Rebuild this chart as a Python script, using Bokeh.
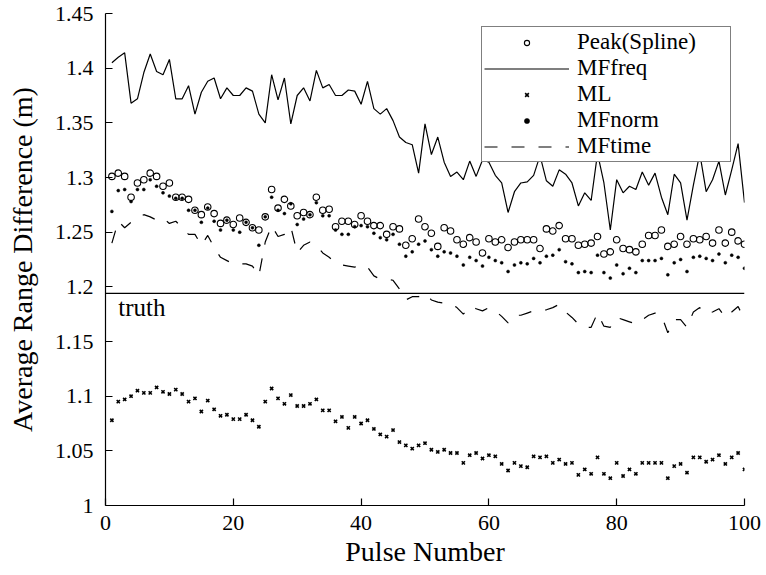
from bokeh.plotting import figure
from bokeh.models import Range1d, FixedTicker, Span, Legend, LegendItem
from bokeh.core.properties import value
from bokeh.embed import file_html
from bokeh.resources import INLINE

pulses = list(range(1, 101))

peak_spline = [
    1.301, 1.304, 1.301, 1.282, 1.295, 1.298, 1.304, 1.301, 1.292, 1.295,
    1.282, 1.282, 1.280, 1.270, 1.266, 1.273, 1.267, 1.258, 1.261, 1.257,
    1.263, 1.259, 1.254, 1.252, 1.264, 1.289, 1.272, 1.280, 1.274, 1.265,
    1.268, 1.266, 1.282, 1.270, 1.271, 1.255, 1.260, 1.260, 1.257, 1.265,
    1.260, 1.256, 1.256, 1.248, 1.255, 1.253, 1.238, 1.244, 1.262, 1.255,
    1.249, 1.237, 1.254, 1.251, 1.243, 1.239, 1.245, 1.241, 1.231, 1.244,
    1.241, 1.243, 1.236, 1.241, 1.243, 1.243, 1.243, 1.235, 1.253, 1.251,
    1.256, 1.244, 1.244, 1.238, 1.239, 1.240, 1.246, 1.230, 1.232, 1.243,
    1.235, 1.234, 1.232, 1.239, 1.247, 1.247, 1.252, 1.237, 1.239, 1.246,
    1.239, 1.244, 1.243, 1.246, 1.240, 1.252, 1.240, 1.250, 1.242, 1.239,
]

mf_freq = [
    1.405, 1.410, 1.414, 1.368, 1.372, 1.396, 1.413, 1.397, 1.394, 1.408,
    1.372, 1.372, 1.384, 1.358, 1.378, 1.388, 1.391, 1.372, 1.382, 1.375,
    1.375, 1.382, 1.379, 1.358, 1.350, 1.394, 1.371, 1.391, 1.349, 1.375,
    1.382, 1.370, 1.398, 1.382, 1.385, 1.375, 1.375, 1.380, 1.379, 1.367,
    1.388, 1.363, 1.358, 1.363, 1.352, 1.337, 1.332, 1.330, 1.304, 1.349,
    1.321, 1.337, 1.314, 1.301, 1.305, 1.298, 1.315, 1.301, 1.316, 1.314,
    1.302, 1.295, 1.268, 1.287, 1.295, 1.296, 1.302, 1.320, 1.297, 1.292,
    1.307, 1.303, 1.295, 1.274, 1.286, 1.279, 1.322, 1.295, 1.252, 1.298,
    1.286, 1.292, 1.289, 1.305, 1.293, 1.304, 1.282, 1.266, 1.303, 1.295,
    1.261, 1.293, 1.322, 1.287, 1.298, 1.315, 1.284, 1.307, 1.331, 1.277,
]

ml = [
    1.078, 1.095, 1.097, 1.100, 1.105, 1.103, 1.103, 1.108, 1.104, 1.102,
    1.106, 1.102, 1.095, 1.098, 1.086, 1.096, 1.088, 1.082, 1.083, 1.079,
    1.079, 1.083, 1.078, 1.072, 1.095, 1.107, 1.098, 1.093, 1.101, 1.091,
    1.091, 1.093, 1.097, 1.087, 1.087, 1.077, 1.081, 1.071, 1.081, 1.075,
    1.078, 1.070, 1.065, 1.063, 1.069, 1.058, 1.055, 1.052, 1.055, 1.057,
    1.051, 1.049, 1.051, 1.048, 1.048, 1.039, 1.046, 1.048, 1.043, 1.046,
    1.045, 1.038, 1.032, 1.039, 1.036, 1.035, 1.045, 1.044, 1.045, 1.039,
    1.042, 1.038, 1.039, 1.028, 1.033, 1.029, 1.044, 1.029, 1.025, 1.039,
    1.027, 1.033, 1.029, 1.039, 1.039, 1.039, 1.039, 1.025, 1.036, 1.038,
    1.030, 1.044, 1.044, 1.040, 1.042, 1.046, 1.038, 1.044, 1.048, 1.033,
]

mf_norm = [
    1.269, 1.288, 1.289, 1.278, 1.289, 1.289, 1.298, 1.292, 1.286, 1.283,
    1.281, 1.281, 1.270, 1.270, 1.259, 1.272, 1.260, 1.252, 1.261, 1.252,
    1.250, 1.259, 1.254, 1.238, 1.264, 1.282, 1.270, 1.267, 1.276, 1.257,
    1.262, 1.266, 1.277, 1.265, 1.265, 1.252, 1.248, 1.248, 1.255, 1.256,
    1.255, 1.249, 1.245, 1.243, 1.248, 1.239, 1.228, 1.232, 1.239, 1.242,
    1.234, 1.228, 1.232, 1.231, 1.228, 1.220, 1.227, 1.224, 1.219, 1.227,
    1.224, 1.222, 1.214, 1.220, 1.222, 1.221, 1.226, 1.222, 1.228, 1.229,
    1.234, 1.223, 1.221, 1.213, 1.214, 1.213, 1.229, 1.213, 1.208, 1.220,
    1.212, 1.217, 1.213, 1.224, 1.224, 1.224, 1.226, 1.211, 1.222, 1.225,
    1.214, 1.227, 1.228, 1.226, 1.224, 1.230, 1.222, 1.229, 1.227, 1.217,
]

mf_time = [
    1.240, 1.260, 1.254, 1.259, 1.263, 1.266, 1.264, 1.261, 1.263, 1.258,
    1.260, 1.254, 1.248, 1.248, 1.238, 1.247, 1.236, 1.227, 1.224, 1.221,
    1.221, 1.221, 1.219, 1.210, 1.241, 1.256, 1.246, 1.248, 1.255, 1.231,
    1.238, 1.241, 1.238, 1.231, 1.227, 1.222, 1.220, 1.219, 1.218, 1.220,
    1.218, 1.210, 1.207, 1.207, 1.206, 1.198, 1.188, 1.191, 1.191, 1.194,
    1.188, 1.186, 1.185, 1.185, 1.181, 1.175, 1.182, 1.180, 1.178, 1.181,
    1.178, 1.173, 1.167, 1.174, 1.174, 1.176, 1.178, 1.178, 1.179, 1.181,
    1.184, 1.177, 1.172, 1.166, 1.163, 1.163, 1.176, 1.164, 1.163, 1.172,
    1.170, 1.168, 1.166, 1.170, 1.174, 1.176, 1.174, 1.158, 1.170, 1.170,
    1.163, 1.177, 1.181, 1.175, 1.177, 1.180, 1.172, 1.177, 1.182, 1.170,
]

truth_value = 1.194
truth_text = "truth"
truth_label_x = 2.0

x_ticks = [0, 20, 40, 60, 80, 100]
y_ticks = [1.0, 1.05, 1.1, 1.15, 1.2, 1.25, 1.3, 1.35, 1.4, 1.45]
y_tick_labels = ["1", "1.05", "1.1", "1.15", "1.2", "1.25", "1.3", "1.35", "1.4", "1.45"]

series_names = ["Peak(Spline)", "MFfreq", "ML", "MFnorm", "MFtime"]

FONT = "Liberation Serif"

p = figure(width=766, height=575, output_backend="svg", toolbar_location=None,
           x_range=Range1d(0, 100), y_range=Range1d(1.0, 1.45),
           min_border_left=105, min_border_right=22, min_border_top=13,
           min_border_bottom=70)
p.outline_line_color = None
p.xgrid.visible = False
p.ygrid.visible = False
p.background_fill_color = "white"
p.border_fill_color = "white"

r_freq = p.line(pulses, mf_freq, line_color="black", line_width=1.2)
r_time = p.line(pulses, mf_time, line_color="black", line_width=1.2, line_dash="13 14")
r_peak = p.scatter(pulses, peak_spline, marker="circle", size=6.5, fill_color=None,
                   line_color="black", line_width=1.1)
r_ml = p.scatter(pulses, ml, marker="x", size=4.5, line_color="black", line_width=1.6)
r_norm = p.scatter(pulses, mf_norm, marker="circle", size=3, fill_color="black",
                   line_color="black", line_width=0.5)

p.add_layout(Span(location=truth_value, dimension="width", line_color="black", line_width=1.2))
p.text(x=[truth_label_x], y=[truth_value], text=[truth_text], text_baseline="top",
       text_align="left", y_offset=1, text_font=value(FONT), text_font_size="25px",
       text_color="black")

p.xaxis.ticker = FixedTicker(ticks=x_ticks)
p.yaxis.ticker = FixedTicker(ticks=y_ticks)
p.yaxis.major_label_overrides = dict(zip(y_ticks, y_tick_labels))

for ax in (p.xaxis[0], p.yaxis[0]):
    ax.major_tick_in = 7
    ax.major_tick_out = 0
    ax.minor_tick_line_color = None
    ax.axis_line_color = "black"
    ax.axis_line_width = 1.2
    ax.major_tick_line_color = "black"
    ax.major_tick_line_width = 1.2
    ax.major_label_text_font = FONT
    ax.major_label_text_font_size = "22px"
    ax.major_label_text_color = "black"
    ax.axis_label_text_font = FONT
    ax.axis_label_text_font_size = "28px"
    ax.axis_label_text_font_style = "normal"
    ax.axis_label_text_color = "black"

p.xaxis.axis_label = "Pulse Number"
p.yaxis.axis_label = "Average Range Difference (m)"
p.yaxis.major_label_standoff = 12
p.xaxis.major_label_standoff = 10
p.xaxis.axis_label_standoff = 3
p.yaxis.axis_label_standoff = 14

legend = Legend(items=[
    LegendItem(label=series_names[0], renderers=[r_peak]),
    LegendItem(label=series_names[1], renderers=[r_freq]),
    LegendItem(label=series_names[2], renderers=[r_ml]),
    LegendItem(label=series_names[3], renderers=[r_norm]),
    LegendItem(label=series_names[4], renderers=[r_time]),
], location="top_right")
legend.margin = 13
legend.padding = 2
legend.spacing = 0
legend.glyph_width = 85
legend.glyph_height = 13
legend.label_height = 24
legend.label_width = 151
legend.label_standoff = 8
legend.label_text_font = FONT
legend.label_text_font_size = "23px"
legend.label_text_color = "black"
legend.border_line_color = "black"
legend.border_line_width = 1.2
legend.background_fill_color = "white"
legend.background_fill_alpha = 1.0
p.add_layout(legend)

open("out.html", "w").write(file_html(p, INLINE))
